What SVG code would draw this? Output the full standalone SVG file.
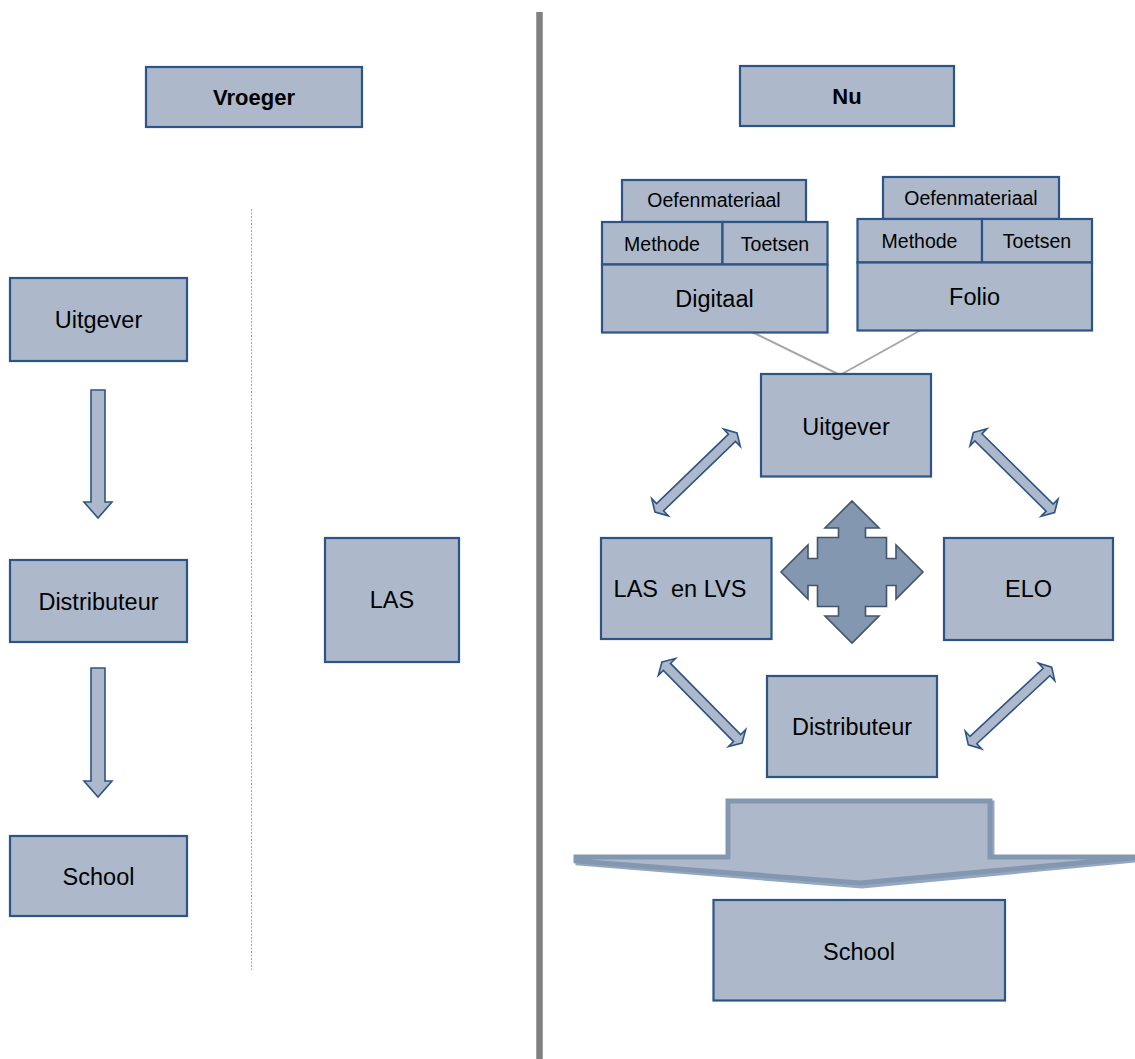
<svg xmlns="http://www.w3.org/2000/svg" width="1135" height="1059" viewBox="0 0 1135 1059">
<style>
.box{fill:#adb9ca;stroke:#2c5486;stroke-width:2.2}
.t{font-family:"Liberation Sans",Arial,sans-serif;fill:#000;text-anchor:middle}
.big{font-size:23.5px}
.sm{font-size:19.5px}
.bold{font-size:22px;font-weight:bold}
.arr{fill:#adb9ca;stroke:#2c5486;stroke-width:1.6;stroke-linejoin:miter}
</style>
<defs>
<path id="dbl" d="M -57,0 L -50,-12 L -50,-5 L 50,-5 L 50,-12 L 57,0 L 50,12 L 50,5 L -50,5 L -50,12 Z"/>
</defs>
<rect width="1135" height="1059" fill="#ffffff"/>

<g id="dividers">
<line x1="539.5" y1="12" x2="539.5" y2="1059" stroke="#808080" stroke-width="6.5"/>
<line x1="251.5" y1="209" x2="251.5" y2="970" stroke="#94a9c9" stroke-width="1" stroke-dasharray="2 1.5"/>
</g>

<g id="connectors">
<path class="arr" d="M 91,390 H 105 V 502 H 112 L 98,518 L 84,502 H 91 Z"/>
<path class="arr" d="M 91,668 H 105 V 781 H 112 L 98,797 L 84,781 H 91 Z"/>
<line x1="752" y1="332" x2="840" y2="375" stroke="#a6a6a6" stroke-width="2"/>
<line x1="921" y1="330" x2="840" y2="375" stroke="#a6a6a6" stroke-width="2"/>
<use href="#dbl" class="arr" transform="translate(696,472.5) rotate(-44)"/>
<use href="#dbl" class="arr" transform="translate(1014,472.5) rotate(44.6)"/>
<use href="#dbl" class="arr" transform="translate(702,702.5) rotate(45.4)"/>
<use href="#dbl" class="arr" transform="translate(1010,706) rotate(-43)"/>
<path id="cross" d="M 852,501 L 879,528 L 865.5,528 L 865.5,537.5 L 886.5,537.5 L 886.5,558.5 L 896,558.5 L 896,545 L 923,572 L 896,599 L 896,585.5 L 886.5,585.5 L 886.5,606.5 L 865.5,606.5 L 865.5,616 L 879,616 L 852,643 L 825,616 L 838.5,616 L 838.5,606.5 L 817.5,606.5 L 817.5,585.5 L 808,585.5 L 808,599 L 781,572 L 808,545 L 808,558.5 L 817.5,558.5 L 817.5,537.5 L 838.5,537.5 L 838.5,528 L 825,528 Z" fill="#8497b0" stroke="#44546a" stroke-width="1.6"/>
<g id="bigarrow">
<path d="M 730,803 H 992 V 859 H 1146 L 862,886 L 578,863 V 859 H 730 Z" fill="none" stroke="#93a7c3" stroke-width="5"/>
<path d="M 728,801 H 990 V 857 H 1144 L 860,883 L 576,861 V 857 H 728 Z" fill="#adb9ca" stroke="#8497b0" stroke-width="5"/>
</g>
</g>

<g id="n-vroeger"><rect class="box" x="146" y="67" width="216" height="60"/><text class="t bold" x="254" y="105">Vroeger</text></g>
<g id="n-nu"><rect class="box" x="740" y="66" width="214" height="60"/><text class="t bold" x="847" y="104">Nu</text></g>

<g id="n-uitgever-l"><rect class="box" x="10" y="278" width="177" height="83"/><text class="t big" x="98.5" y="328">Uitgever</text></g>
<g id="n-distributeur-l"><rect class="box" x="10" y="560" width="177" height="82"/><text class="t big" x="98.5" y="610">Distributeur</text></g>
<g id="n-school-l"><rect class="box" x="10" y="836" width="177" height="80"/><text class="t big" x="98.5" y="885">School</text></g>
<g id="n-las"><rect class="box" x="325" y="538" width="134" height="124"/><text class="t big" x="392" y="608">LAS</text></g>

<g id="n-digitaal">
<rect class="box" x="622" y="180" width="184" height="42"/><text class="t sm" x="714" y="207">Oefenmateriaal</text>
<rect class="box" x="602" y="222" width="120.5" height="42.5"/><text class="t sm" x="662" y="250.5">Methode</text>
<rect class="box" x="722.5" y="222" width="105" height="42.5"/><text class="t sm" x="775" y="250.5">Toetsen</text>
<rect class="box" x="602" y="264.5" width="225.5" height="68"/><text class="t big" x="714.5" y="306.5">Digitaal</text>
</g>
<g id="n-folio">
<rect class="box" x="883" y="177" width="176" height="42"/><text class="t sm" x="971" y="204.5">Oefenmateriaal</text>
<rect class="box" x="857.5" y="219" width="124.5" height="43.5"/><text class="t sm" x="919.5" y="248">Methode</text>
<rect class="box" x="982" y="219" width="110" height="43.5"/><text class="t sm" x="1037" y="248">Toetsen</text>
<rect class="box" x="857.5" y="262.5" width="234.5" height="68"/><text class="t big" x="974.5" y="305">Folio</text>
</g>

<g id="n-uitgever-r"><rect class="box" x="761" y="374" width="170" height="102.5"/><text class="t big" x="846" y="434.5">Uitgever</text></g>
<g id="n-lasenlvs"><rect class="box" x="601" y="538" width="170.5" height="101"/><text class="t big" x="680" y="597" xml:space="preserve">LAS  en LVS</text></g>
<g id="n-elo"><rect class="box" x="944" y="538" width="169" height="102"/><text class="t big" x="1028.5" y="597">ELO</text></g>
<g id="n-distributeur-r"><rect class="box" x="767" y="676" width="170" height="101"/><text class="t big" x="852" y="735">Distributeur</text></g>
<g id="n-school-r"><rect class="box" x="713.5" y="900" width="291.5" height="100.5"/><text class="t big" x="859" y="960">School</text></g>
</svg>
